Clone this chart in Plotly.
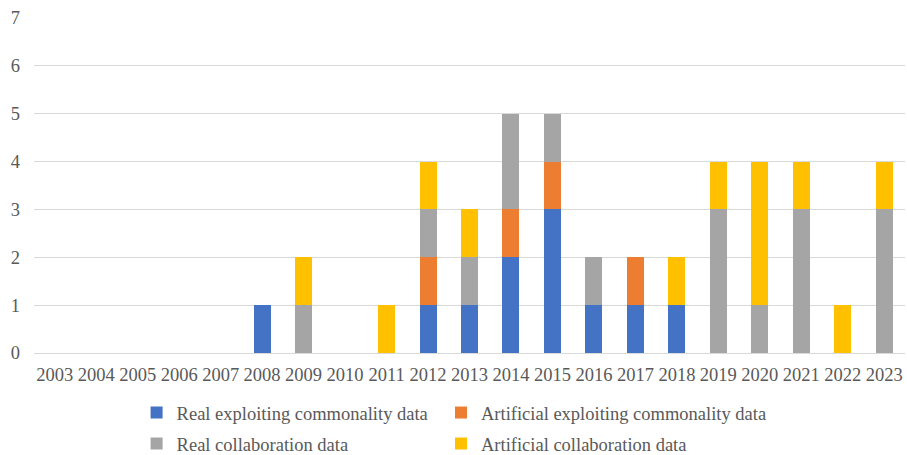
import plotly.graph_objects as go

years = [str(y) for y in range(2003, 2024)]
real_exploiting = [0, 0, 0, 0, 0, 1, 0, 0, 0, 1, 1, 2, 3, 1, 1, 1, 0, 0, 0, 0, 0]
artificial_exploiting = [0, 0, 0, 0, 0, 0, 0, 0, 0, 1, 0, 1, 1, 0, 1, 0, 0, 0, 0, 0, 0]
real_collab = [0, 0, 0, 0, 0, 0, 1, 0, 0, 1, 1, 2, 1, 1, 0, 0, 3, 1, 3, 0, 3]
artificial_collab = [0, 0, 0, 0, 0, 0, 1, 0, 1, 1, 1, 0, 0, 0, 0, 1, 1, 3, 1, 1, 1]

series = [
    ("Real exploiting commonality data", real_exploiting, "#4472C4", "legend"),
    ("Artificial exploiting commonality data", artificial_exploiting, "#ED7D31", "legend2"),
    ("Real collaboration data", real_collab, "#A5A5A5", "legend3"),
    ("Artificial collaboration data", artificial_collab, "#FFC000", "legend4"),
]

fig = go.Figure()
for name, vals, color, leg in series:
    fig.add_trace(go.Bar(x=years, y=vals, name=name, marker=dict(color=color, line=dict(width=0)),
                         legend=leg))

font = dict(family="Times New Roman, Liberation Serif, DejaVu Serif, serif", size=18.5, color="#595959")


def leg(x, y):
    return dict(orientation="h", xref="container", yref="container", x=x, y=y,
                xanchor="left", yanchor="middle", font=font, bgcolor="rgba(0,0,0,0)")


fig.update_layout(
    template="none",
    barmode="stack",
    bargap=0.59,
    width=907, height=455,
    margin=dict(l=34, r=2, t=18, b=102, pad=0),
    plot_bgcolor="white", paper_bgcolor="white",
    font=font,
    xaxis=dict(type="category", showgrid=False, showline=False, ticks="", tickfont=font,
               ticklabelstandoff=8),
    yaxis=dict(range=[0, 7], dtick=1, gridcolor="#D9D9D9", gridwidth=1, zeroline=True,
               zerolinecolor="#D9D9D9", zerolinewidth=1, showline=False, ticks="", tickfont=font,
               ticklabelstandoff=13),
    legend=leg(0.1506, 0.0923),
    legend2=leg(0.4862, 0.0923),
    legend3=leg(0.1506, 0.0242),
    legend4=leg(0.4862, 0.0242),
    showlegend=True,
)

fig.write_html("out.html")
